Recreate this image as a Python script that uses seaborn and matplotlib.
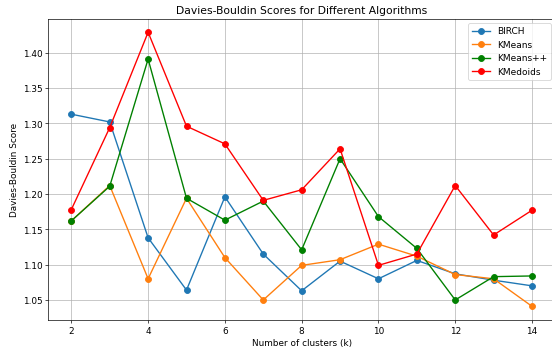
import matplotlib
matplotlib.use("Agg")
import matplotlib.pyplot as plt
import seaborn as sns
import pandas as pd

# Davies-Bouldin score per number of clusters for each algorithm
k_values = [2, 3, 4, 5, 6, 7, 8, 9, 10, 11, 12, 13, 14]
birch = [1.313, 1.302, 1.138, 1.064, 1.196, 1.115, 1.063, 1.105, 1.080, 1.106, 1.087, 1.078, 1.070]
kmeans = [1.162, 1.212, 1.080, 1.194, 1.110, 1.050, 1.099, 1.107, 1.129, 1.112, 1.086, 1.080, 1.041]
kmeans_pp = [1.162, 1.211, 1.391, 1.194, 1.163, 1.190, 1.121, 1.250, 1.168, 1.123, 1.050, 1.083, 1.084]
kmedoids = [1.178, 1.294, 1.429, 1.296, 1.271, 1.191, 1.206, 1.264, 1.099, 1.115, 1.212, 1.142, 1.177]

series = {
    "BIRCH": birch,
    "KMeans": kmeans,
    "KMeans++": kmeans_pp,
    "KMedoids": kmedoids,
}
colors = {
    "BIRCH": "#1f77b4",
    "KMeans": "#ff7f0e",
    "KMeans++": "green",
    "KMedoids": "red",
}

plt.rcParams["xtick.labelsize"] = 10.5
plt.rcParams["ytick.labelsize"] = 10.5

fig = plt.figure(figsize=(9, 5.8), dpi=552 / 9)
ax = fig.add_axes([0.0875, 0.0983, 0.918, 0.8475])

for name, values in series.items():
    df = pd.DataFrame({"k": k_values, "score": values})
    sns.lineplot(data=df, x="k", y="score", marker="o", color=colors[name],
                 label=name, ax=ax, linewidth=1.6, markersize=7,
                 markeredgecolor=colors[name], markeredgewidth=1.0)

ax.set_title("Davies-Bouldin Scores for Different Algorithms", fontsize=12.6)
ax.set_xlabel("Number of clusters (k)", fontsize=10.5)
ax.set_ylabel("Davies-Bouldin Score", fontsize=10.5)
ax.grid(True)
ax.legend(loc="upper right", fontsize=10.6)

fig.savefig("out.png", dpi=552 / 9)
